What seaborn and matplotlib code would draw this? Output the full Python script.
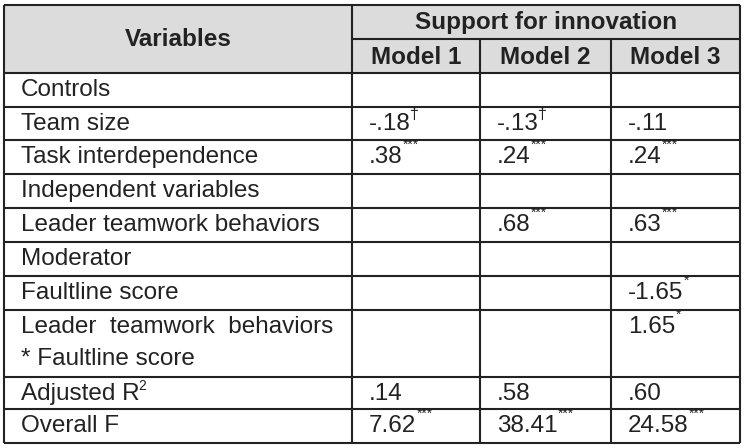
import seaborn as sns
from matplotlib import pyplot as plt
from matplotlib.patches import Rectangle

# table content
variables = ["Controls", "Team size", "Task interdependence", "Independent variables",
             "Leader teamwork behaviors", "Moderator", "Faultline score",
             "Leader  teamwork  behaviors\n* Faultline score", "Adjusted R", "Overall F"]
var_sup = ["", "", "", "", "", "", "", "", "2", ""]
models = ["Model 1", "Model 2", "Model 3"]
model1 = ["", "-.18", ".38", "", "", "", "", "", ".14", "7.62"]
model2 = ["", "-.13", ".24", "", ".68", "", "", "", ".58", "38.41"]
model3 = ["", "-.11", ".24", "", ".63", "", "-1.65", "1.65", ".60", "24.58"]
sig1 = ["", "†", "***", "", "", "", "", "", "", "***"]
sig2 = ["", "†", "***", "", "***", "", "", "", "", "***"]
sig3 = ["", "", "***", "", "***", "", "*", "*", "", "***"]

# layout (pixel units)
col_x = [4, 352, 480, 611, 740]
head_y = [5, 39, 73]
row_h = [34, 33, 34, 34, 34, 34, 34, 67, 32, 34]

sns.set_theme(style="white")
plt.rcParams['font.family'] = ['Liberation Sans', 'DejaVu Sans']

fig = plt.figure(figsize=(7.46, 4.48), dpi=100)
ax = fig.add_axes([0, 0, 1, 1])
ax.set_xlim(0, 746)
ax.set_ylim(448, 0)
ax.axis('off')
renderer = fig.canvas.get_renderer()

ink = '#222222'
fs = 17.5
lw = 1.5


def cell_text(x, y, txt, sup, top):
    t = ax.text(x, y, txt, ha='left', va='center', fontsize=fs, color=ink)
    if not sup:
        return
    bb = t.get_window_extent(renderer).transformed(ax.transData.inverted())
    if sup == "†":
        ax.text(bb.x1 - 1, top + 0.5, sup, ha='left', va='top', fontsize=11.5, color=ink)
    elif sup.startswith("*"):
        ax.text(bb.x1 + 0.5, top - 2, sup, ha='left', va='top', fontsize=10, color=ink)
    else:
        ax.text(bb.x1 - 1, top + 1.5, sup, ha='left', va='top', fontsize=10, color=ink)


# header background
ax.add_patch(Rectangle((col_x[0], head_y[0]), col_x[-1] - col_x[0], head_y[2] - head_y[0],
                       facecolor='#dcdcdc', edgecolor='none'))

row_y = [head_y[2]]
for h in row_h:
    row_y.append(row_y[-1] + h)
bottom = row_y[-1]

# body
for r, name in enumerate(variables):
    top = row_y[r]
    yc = top + 17
    if "\n" in name:
        first, second = name.split("\n")
        cell_text(col_x[0] + 17, yc, first, "", top)
        cell_text(col_x[0] + 17, yc + 32, second, "", top)
    else:
        cell_text(col_x[0] + 17, yc, name, var_sup[r], top)
    for c, (vals, sigs) in enumerate([(model1, sig1), (model2, sig2), (model3, sig3)]):
        if vals[r]:
            cell_text(col_x[c + 1] + 17, yc, vals[r], sigs[r], top)

# grid lines
ax.hlines([head_y[0], head_y[2]] + row_y[1:], col_x[0], col_x[-1], color=ink, lw=lw)
ax.hlines(head_y[1], col_x[1], col_x[-1], color=ink, lw=lw)
ax.vlines([col_x[0], col_x[1], col_x[-1]], head_y[0], bottom, color=ink, lw=lw)
ax.vlines(col_x[2:4], head_y[1], bottom, color=ink, lw=lw)

# header text
ax.text((col_x[0] + col_x[1]) / 2, (head_y[0] + head_y[2]) / 2, "Variables",
        ha='center', va='center', fontsize=fs, fontweight='bold', color=ink)
ax.text((col_x[1] + col_x[-1]) / 2, (head_y[0] + head_y[1]) / 2 + 1, "Support for innovation",
        ha='center', va='center', fontsize=fs, fontweight='bold', color=ink)
for i, m in enumerate(models):
    ax.text((col_x[i + 1] + col_x[i + 2]) / 2, (head_y[1] + head_y[2]) / 2 + 1, m,
            ha='center', va='center', fontsize=fs, fontweight='bold', color=ink)

fig.savefig('out.png', dpi=100)
